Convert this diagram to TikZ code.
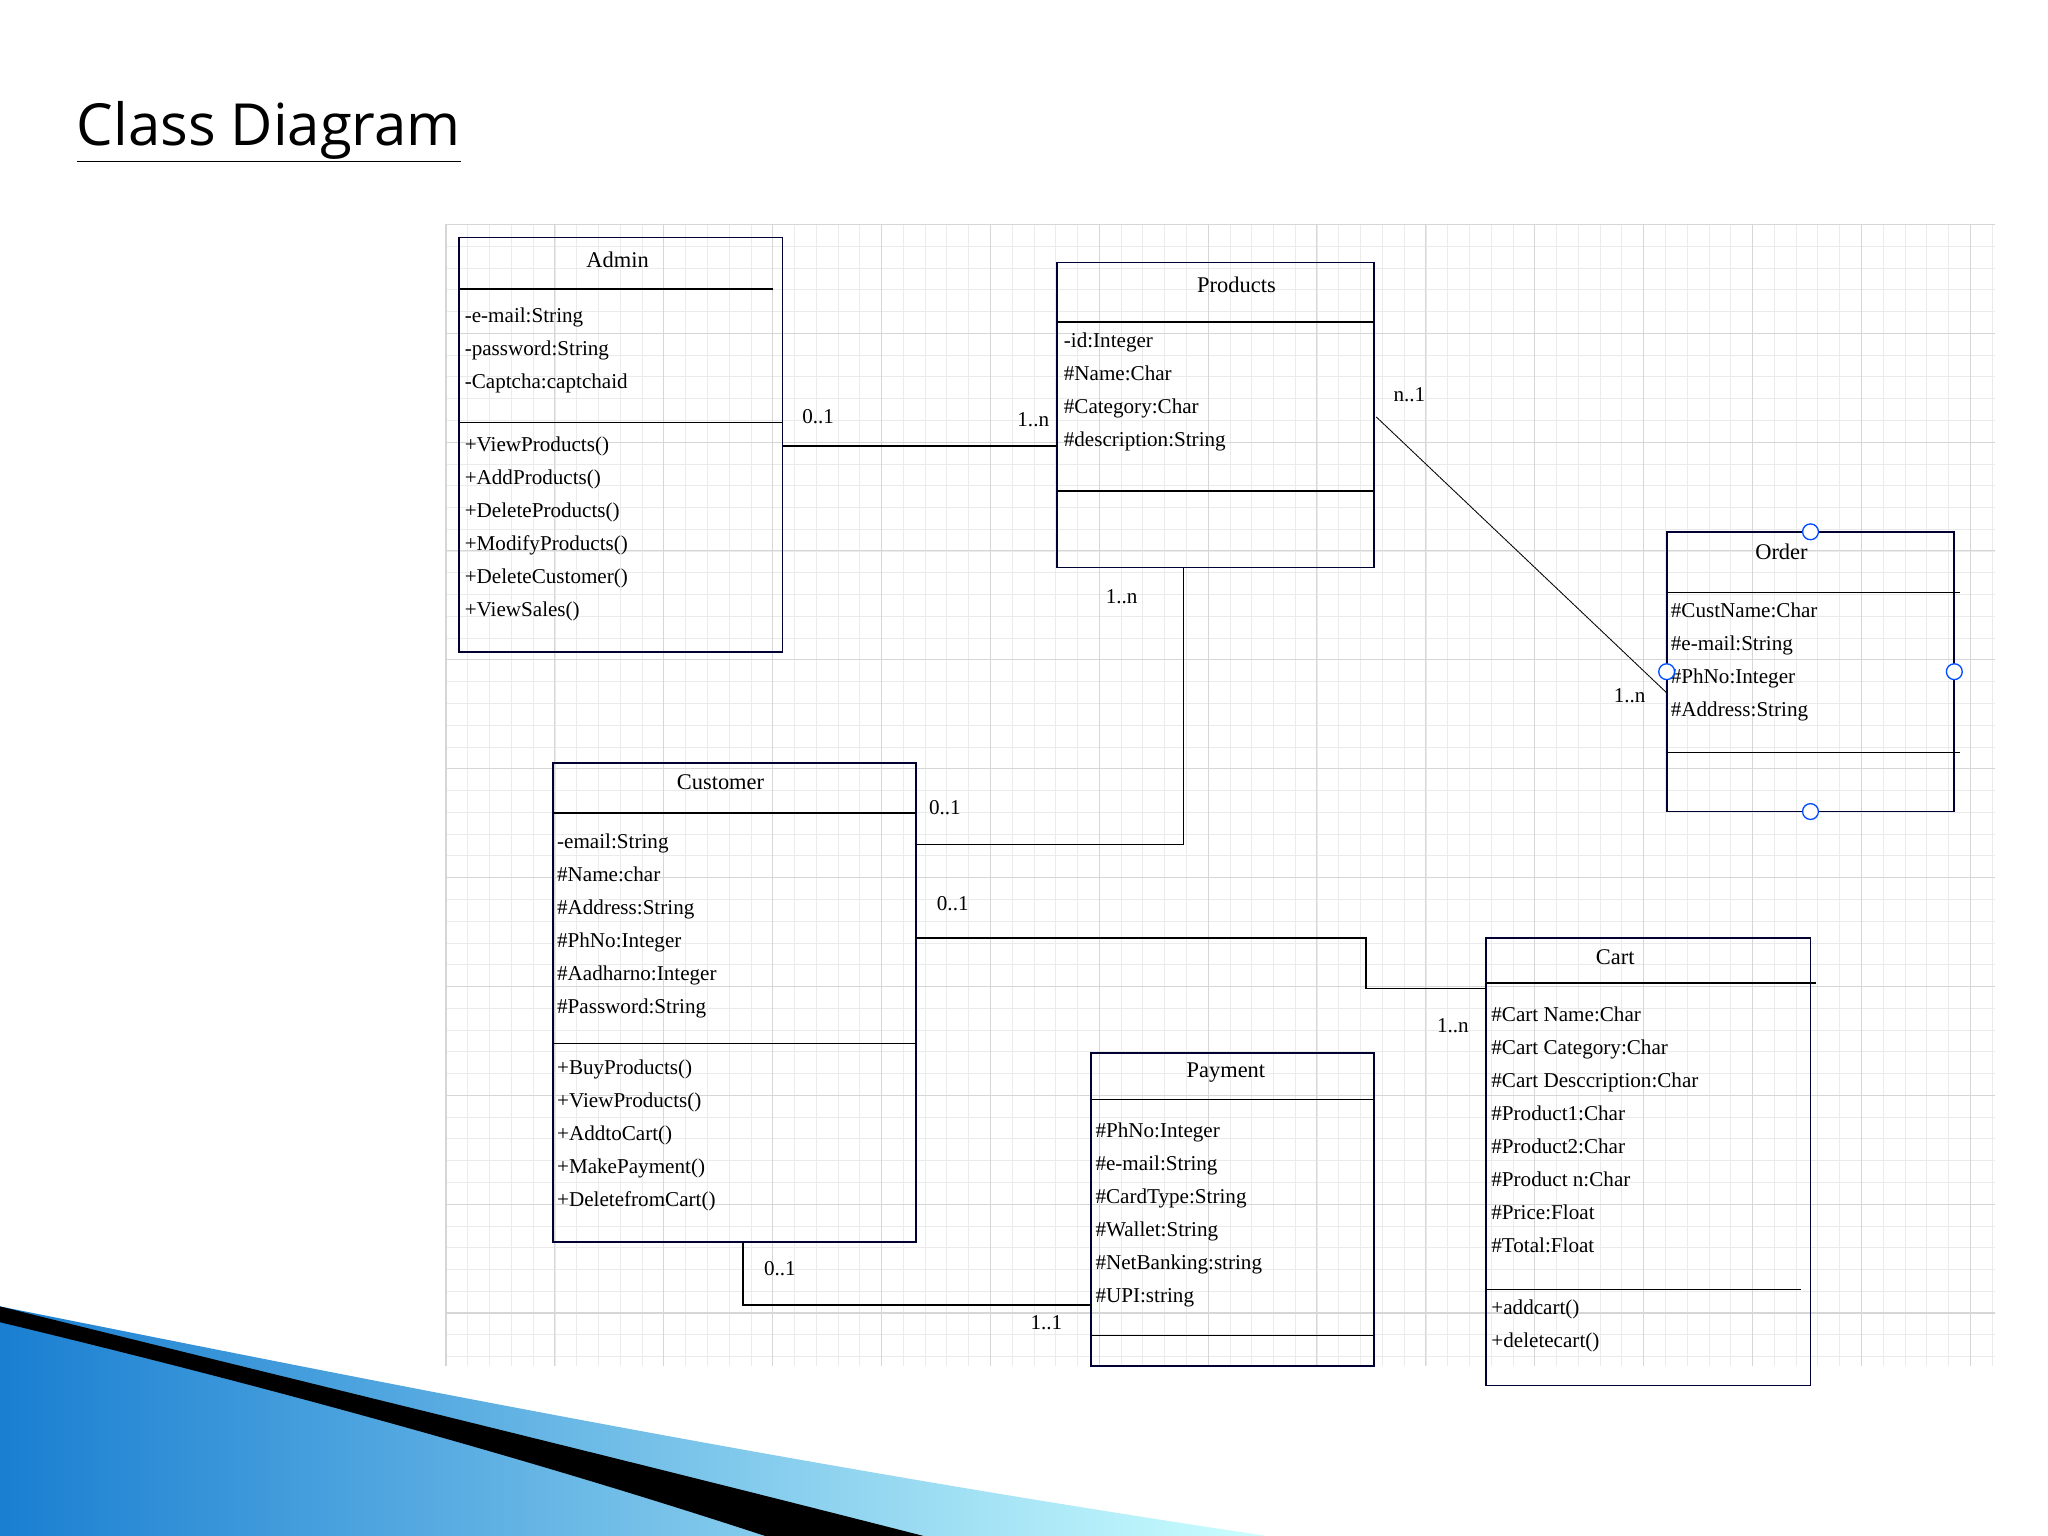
\documentclass[tikz,border=0pt]{standalone}
\usepackage{fontspec}
\setmainfont{Liberation Serif}
\newfontfamily\titlefont{Open Sans}
\begin{document}
\begin{tikzpicture}[x=1pt,y=-1pt,
  box/.style={draw=black!80!blue,line width=1.3pt},
  sep/.style={line width=1pt},
  txt/.style={font=\fontsize{16}{25}\selectfont,align=left,anchor=north west,inner sep=0pt},
  hd/.style={font=\fontsize{17}{18}\selectfont,inner sep=0pt},
  lab/.style={font=\fontsize{16}{18}\selectfont,inner sep=0pt},
  conn/.style={line width=1.2pt},
  hand/.style={draw=blue!70!cyan,fill=white,line width=1pt,circle,inner sep=0pt,minimum size=12pt}]
\useasboundingbox (0,0) rectangle (1552,1164);
\fill[white] (0,0) rectangle (1552,1164);
% grid
\foreach \i in {0,...,71} {\draw[black!8,line width=0.5pt] (338+\i*16.5,170) -- (338+\i*16.5,1035);}
\foreach \j in {0,...,52} {\draw[black!8,line width=0.5pt] (338,170+\j*16.5) -- (1512,170+\j*16.5);}
\foreach \i in {0,...,14} {\draw[black!16,line width=0.8pt] (338+\i*82.5,170) -- (338+\i*82.5,1035);}
\foreach \j in {0,...,10} {\draw[black!16,line width=0.8pt] (338,170+\j*82.5) -- (1512,170+\j*82.5);}
% title
\node[anchor=west,inner sep=0pt,font=\titlefont\fontsize{44}{48}\selectfont] (title) at (58,100) {\underline{Class Diagram}};
% bottom swoosh
\shade[left color=cyan!55!blue!80!black!90, right color=cyan!20!white] (0,990) .. controls (300,1050) and (600,1110) .. (960,1164) -- (0,1164) -- cycle;
\fill[black] (0,990) .. controls (200,1040) and (450,1100) .. (700,1164) -- (580,1164) .. controls (400,1105) and (200,1050) .. (0,1002) -- cycle;
% Admin
\draw[box] (348,180) rectangle (593,494);
\draw[sep] (348,219) -- (586,219); \draw[sep] (348,320) -- (593,320);
\node[hd] (admin) at (468,197) {Admin};
\node[txt] (adminA) at (352,233) {-e-mail:String\\-password:String\\-Captcha:captchaid};
\node[txt] (adminM) at (352,331) {+ViewProducts()\\+AddProducts()\\+DeleteProducts()\\+ModifyProducts()\\+DeleteCustomer()\\+ViewSales()};
% Products
\draw[box] (801,199) rectangle (1041,430);
\draw[sep] (801,244) -- (1041,244); \draw[sep] (801,372) -- (1041,372);
\node[hd] (prod) at (937,216) {Products};
\node[txt] (prodA) at (806,252) {-id:Integer\\\#Name:Char\\\#Category:Char\\\#description:String};
% Order
\draw[box] (1263,403) rectangle (1481,615);
\draw[sep] (1263,449) -- (1485,449); \draw[sep] (1263,570) -- (1485,570);
\node[hd] (order) at (1350,418) {Order};
\node[txt] (orderA) at (1266,457) {\#CustName:Char\\\#e-mail:String\\\#PhNo:Integer\\\#Address:String};
% Customer
\draw[box] (419,578) rectangle (694,941);
\draw[sep] (419,616) -- (694,616); \draw[sep] (419,791) -- (694,791);
\node[hd] (cust) at (546,593) {Customer};
\node[txt] (custA) at (422,632) {-email:String\\\#Name:char\\\#Address:String\\\#PhNo:Integer\\\#Aadharno:Integer\\\#Password:String};
\node[txt] (custM) at (422,803) {+BuyProducts()\\+ViewProducts()\\+AddtoCart()\\+MakePayment()\\+DeletefromCart()};
% Cart
\draw[box] (1126,711) rectangle (1372,1050);
\draw[sep] (1126,745) -- (1376,745); \draw[sep] (1126,977) -- (1365,977);
\node[hd] (cart) at (1224,725) {Cart};
\node[txt] (cartA) at (1130,763) {\#Cart Name:Char\\\#Cart Category:Char\\\#Cart Desccription:Char\\\#Product1:Char\\\#Product2:Char\\\#Product n:Char\\\#Price:Float\\\#Total:Float};
\node[txt] (cartM) at (1130,985) {+addcart()\\+deletecart()};
% Payment
\draw[box] (827,798) rectangle (1041,1035);
\draw[sep] (827,833) -- (1041,833); \draw[sep] (827,1012) -- (1041,1012);
\node[hd] (pay) at (929,813) {Payment};
\node[txt] (payA) at (830,851) {\#PhNo:Integer\\\#e-mail:String\\\#CardType:String\\\#Wallet:String\\\#NetBanking:string\\\#UPI:string};
% connectors
\coordinate (a1) at (593,338); \coordinate (p1) at (801,338);
\draw[conn] (a1) -- (p1);
\node[lab] (l1) at (620,316) {0..1}; \node[lab] (l2) at (783,318) {1..n};
\coordinate (p2) at (1043,316); \coordinate (o1) at (1263,525);
\draw[line width=0.8pt,black!70,densely dotted] (p2) -- (o1);
\draw[line width=0.5pt] (p2) -- (o1);
\node[lab] (l3) at (1068,299) {n..1}; \node[lab] (l4) at (1235,527) {1..n};
\coordinate (p3) at (897,430); \coordinate (c1) at (694,640);
\draw[conn] (p3) |- (c1);
\node[lab] (l5) at (850,452) {1..n}; \node[lab] (l6) at (716,612) {0..1};
\coordinate (c2) at (694,711); \coordinate (k1) at (1126,749);
\draw[conn] (c2) -- (1035,711) -- (1035,749) -- (k1);
\node[lab] (l7) at (722,685) {0..1}; \node[lab] (l8) at (1101,777) {1..n};
\coordinate (c3) at (563,941); \coordinate (y1) at (827,989);
\draw[conn] (c3) |- (y1);
\node[lab] (l9) at (591,961) {0..1}; \node[lab] (l10) at (793,1002) {1..1};
% handles
\node[hand] (h1) at (1372,403) {}; \node[hand] (h2) at (1263,509) {};
\node[hand] (h3) at (1481,509) {}; \node[hand] (h4) at (1372,615) {};
\end{tikzpicture}
\end{document}
